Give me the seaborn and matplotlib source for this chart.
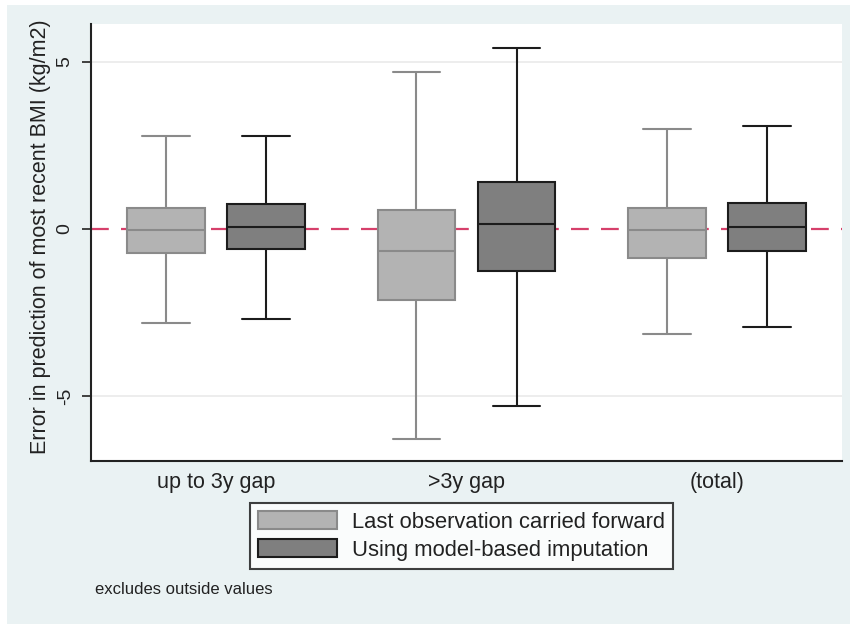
import numpy as np
import pandas as pd
import matplotlib
matplotlib.use("Agg")
import matplotlib.pyplot as plt
from matplotlib.patches import Rectangle, Patch
import seaborn as sns

# ---- data (five-number summaries) ----
groups = ["up to 3y gap", ">3y gap", "(total)"]
methods = ["Last observation carried forward", "Using model-based imputation"]
# each entry: [lower whisker, q1, median, q3, upper whisker]
locf_stats = [
    [-2.81, -0.72, -0.02, 0.63, 2.78],
    [-6.29, -2.13, -0.66, 0.57, 4.70],
    [-3.14, -0.87, -0.02, 0.63, 2.99],
]
mbi_stats = [
    [-2.69, -0.60, 0.06, 0.75, 2.78],
    [-5.30, -1.26, 0.15, 1.41, 5.42],
    [-2.93, -0.66, 0.06, 0.78, 3.08],
]
yticks = [-5, 0, 5]

rows = []
for g, s in zip(groups, locf_stats):
    for v in s:
        rows.append((g, methods[0], v))
for g, s in zip(groups, mbi_stats):
    for v in s:
        rows.append((g, methods[1], v))
df = pd.DataFrame(rows, columns=["group", "method", "value"])

sns.set_theme(style="white")
plt.rcParams["font.family"] = ["Liberation Sans", "DejaVu Sans"]

face = {methods[0]: "#b3b3b3", methods[1]: "#7f7f7f"}
edge = {methods[0]: "#8a8a8a", methods[1]: "#1c1c1c"}
txt = "#222222"

fig = plt.figure(figsize=(8.51, 6.26), dpi=100)
fig.patch.set_facecolor("white")
fig.add_artist(Rectangle((7 / 851, 1 - 624 / 626), 843 / 851, 619 / 626,
                         transform=fig.transFigure, facecolor="#eaf2f3",
                         edgecolor="none", zorder=-10))

ax = fig.add_axes([91 / 851, 1 - 461 / 626, 751 / 851, 437 / 626])
ax.set_facecolor("white")

sns.boxplot(data=df, x="group", y="value", hue="method", order=groups,
            hue_order=methods, palette=face, whis=np.inf, width=0.8,
            gap=0.225, linewidth=1.5, capwidths=0.19, showfliers=False,
            ax=ax, legend=False)

# recolour outlines per method
for p in ax.patches:
    fc = matplotlib.colors.to_hex(p.get_facecolor())
    m = methods[0] if fc == face[methods[0]] else methods[1]
    p.set_edgecolor(edge[m])
    p.set_linewidth(1.5)
for ln in ax.lines:
    xd = np.asarray(ln.get_xdata(), dtype=float)
    if xd.size == 0:
        continue
    mx = xd.mean()
    m = methods[0] if mx - np.round(mx) < 0 else methods[1]
    ln.set_color(edge[m])
    ln.set_linewidth(1.5)

# grid lines and zero reference
for yv in [-5, 5]:
    ax.axhline(yv, color="#ececec", lw=1.3, zorder=0)
ax.axhline(0, color="#d6406b", lw=1.6, ls=(0, (8, 5.5)), zorder=0.5)

ax.set_xlim(-0.5, 2.5)
ax.set_ylim(-6.95, 6.14)
ax.set_yticks(yticks)
ax.set_yticklabels([str(t) for t in yticks], rotation=90, va="center",
                   fontsize=14, color=txt)
ax.tick_params(axis="y", direction="out", length=6.5, width=1.2,
               color=txt, left=True, pad=6)
ax.tick_params(axis="x", length=0, pad=8, labelsize=15.5, labelcolor=txt)
ax.set_xlabel("")
ax.set_ylabel("Error in prediction of most recent BMI (kg/m2)",
              fontsize=15.5, color=txt)
ax.yaxis.set_label_coords(-0.053, 0.514)

for s in ["top", "right"]:
    ax.spines[s].set_visible(False)
for s in ["left", "bottom"]:
    ax.spines[s].set_color(txt)
    ax.spines[s].set_linewidth(1.5)

handles = [Patch(facecolor=face[m], edgecolor=edge[m], linewidth=1.5)
           for m in methods]
leg = fig.legend(handles, methods, loc="upper left",
                 bbox_to_anchor=(250 / 851, 1 - 503 / 626),
                 frameon=True, fancybox=False, fontsize=15.8,
                 handlelength=3.6, handleheight=0.9, handletextpad=0.68,
                 borderpad=0.37, labelspacing=0.28, borderaxespad=0)
leg.get_frame().set_edgecolor("#111111")
leg.get_frame().set_linewidth(1.5)
for t in leg.get_texts():
    t.set_color(txt)

fig.text(95 / 851, 1 - 590 / 626, "excludes outside values", fontsize=12,
         color=txt, va="center", ha="left")

fig.savefig("out.png", dpi=100, facecolor=fig.get_facecolor())
